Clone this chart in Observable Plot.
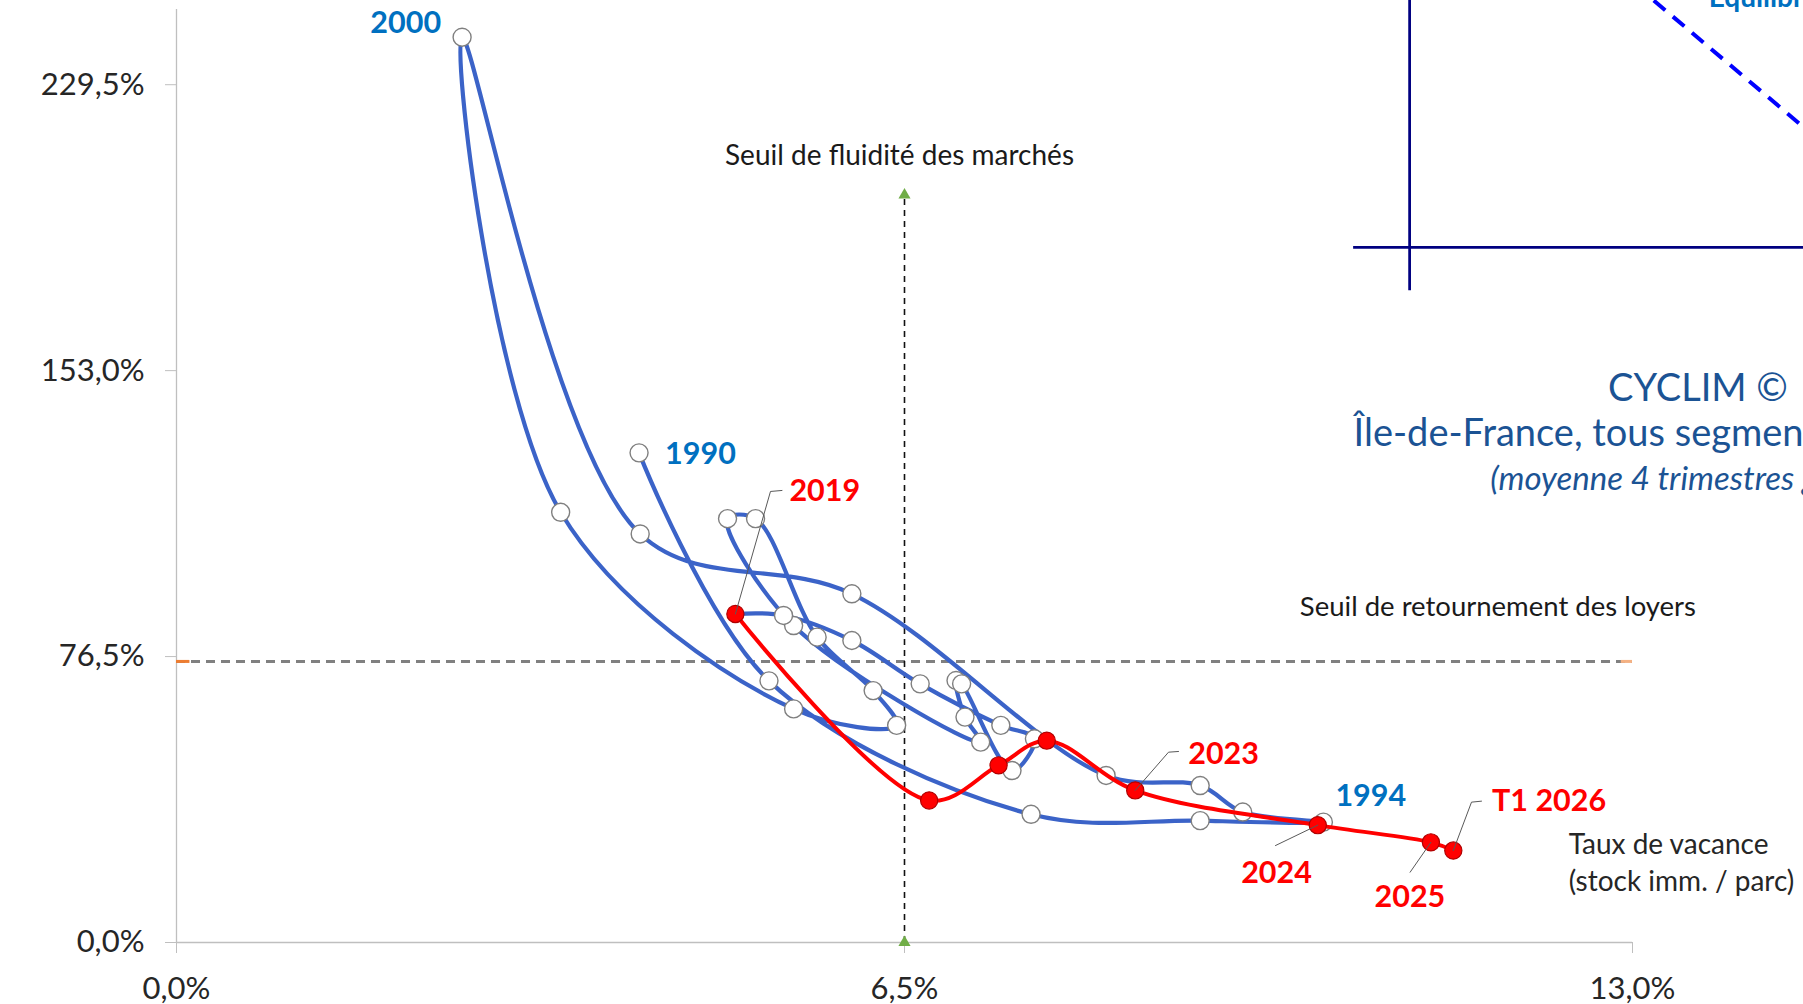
<!DOCTYPE html>
<html>
<head>
<meta charset="utf-8">
<script src="https://cdn.jsdelivr.net/npm/d3@7"></script>
<script src="https://cdn.jsdelivr.net/npm/@observablehq/plot@0.6"></script>
<style>
  html, body { margin: 0; padding: 0; background: #fff; overflow: hidden; }
  #chart svg { display: block; }
</style>
</head>
<body>
<div id="chart"></div>
<script>
// ---------- data ----------
const blueYears   = [1990,1991,1992,1993,1994,1995,1996,1997,1998,1999,2000,2001,2002,2003,2004,2005,2006,2007,2008,2009,2010,2011,2012,2013,2014,2015,2016,2017,2018];
const blueVacancy = [4.13,5.29,7.63,9.14,10.24,9.52,9.14,8.30,6.03,4.14,2.55,3.43,5.51,6.43,6.22,5.72,5.17,4.92,5.51,7.18,7.04,6.96,7.01,7.46,7.66,7.36,6.64,6.03,5.42];
const blueRatio   = [131.0,70.0,34.3,32.6,32.2,34.9,42.0,44.7,93.3,109.3,242.2,115.1,62.5,58.1,67.4,81.7,113.4,113.4,84.8,53.6,60.3,70.1,69.2,46.0,54.5,58.1,69.2,80.8,87.5];

const redLabels   = ["2019","2020","2021","2022","2023","2024","2025","T1 2026"];
const redVacancy  = [4.99,6.72,7.34,7.77,8.56,10.19,11.20,11.40];
const redRatio    = [87.9,38.0,47.4,54.0,40.7,31.4,26.8,24.6];

const xTicks = [0, 6.5, 13];
const yTicks = [0, 76.5, 153, 229.5];
const fluidityThreshold = 6.5;   // vertical dashed line (x)
const fluidityTop = 200;         // its upper end (y)
const rentThreshold = 75.2;      // horizontal dashed line (y)

// ---------- layout ----------
const W = 1803, H = 1004, ML = 176, MR = 171, MT = 0, MB = 62;
const xDomain = [0, 13], yDomain = [0, 252.03];
const PX_X = (W - ML - MR) / (xDomain[1] - xDomain[0]);
const PX_Y = (H - MT - MB) / (yDomain[1] - yDomain[0]);

const blue = blueYears.map((yr, i) => ({key: String(yr), vac: blueVacancy[i], ratio: blueRatio[i]}));
const red  = redLabels.map((lab, i) => ({key: lab, vac: redVacancy[i], ratio: redRatio[i]}));
const blueLine = [...blue, red[0]];

const fmt = d => d.toFixed(1).replace(".", ",") + "%";
const BLUE_TXT = "#0070C0", RED_TXT = "#FF0000", NAVY_TXT = "#1b5394";

// labels attached to points: pixel offsets + leader elbows (pixel offsets from the point)
const labelSpecs = [
  {key: "2000", set: blue, dx: -21, dy: -14, anchor: "end",   color: BLUE_TXT},
  {key: "1990", set: blue, dx: 26,  dy: 1.5, anchor: "start", color: BLUE_TXT},
  {key: "1994", set: blue, dx: 12,  dy: -25.5, anchor: "start", color: BLUE_TXT},
  {key: "2019", set: red, dx: 54, dy: -122.5, anchor: "start", color: RED_TXT, leader: [[46.6,-123.5],[35.1,-122.5]]},
  {key: "2023", set: red, dx: 53, dy: -36,   anchor: "start", color: RED_TXT, leader: [[43.3,-38.9],[33.3,-38.2]]},
  {key: "2024", set: red, dx: -76.6, dy: 48.4, anchor: "start", color: RED_TXT, leader: [[-42.3,20.4]]},
  {key: "2025", set: red, dx: -56.4, dy: 55.2, anchor: "start", color: RED_TXT, leader: [[-20.8,29.9]]},
  {key: "T1 2026", set: red, dx: 38.7, dy: -49.1, anchor: "start", color: RED_TXT, leader: [[28.2,-49.4],[18.2,-48.4]]}
];

const labelMarks = [];
for (const s of labelSpecs) {
  const pt = s.set.find(d => d.key === s.key);
  if (s.leader) {
    const pts = s.leader.map(([ox, oy]) => ({x: pt.vac + ox / PX_X, y: pt.ratio - oy / PX_Y}));
    pts.push({x: pt.vac, y: pt.ratio});
    labelMarks.push(Plot.line(pts, {x: "x", y: "y", stroke: "#595959", strokeWidth: 1}));
  }
  labelMarks.push(Plot.text([pt], {
    x: "vac", y: "ratio", text: "key", dx: s.dx, dy: s.dy,
    textAnchor: s.anchor, fill: s.color, fontWeight: "bold", fontSize: 30.5
  }));
}

const chart = Plot.plot({
  width: W, height: H,
  marginLeft: ML, marginRight: MR, marginTop: MT, marginBottom: MB,
  x: {domain: xDomain},
  y: {domain: yDomain},
  style: {fontFamily: "Lato, 'Open Sans', sans-serif", background: "#fff"},
  marks: [
    // slide decorations (top right)
    Plot.ruleX([11.01], {y1: 174.4, y2: 262, stroke: "#000080", strokeWidth: 2.75}),
    Plot.ruleY([186.0], {x1: 10.51, x2: 15, stroke: "#000080", strokeWidth: 2.75}),
    Plot.link([0], {x1: 13.19, y1: 252.03, x2: 14.77, y2: 212.0, stroke: "#0000FF", strokeWidth: 4, strokeDasharray: "15,10"}),
    Plot.text(["Equilibre"], {x: 13.68, y: 250.3, lineAnchor: "bottom", textAnchor: "start", fontWeight: "bold", fontSize: 28, fill: BLUE_TXT}),
    Plot.text(["CYCLIM ©"], {x: 13.585, y: 148.0, textAnchor: "middle", fontSize: 38, fill: NAVY_TXT}),
    Plot.text(["Île-de-France, tous segments"], {x: 10.51, y: 136.0, textAnchor: "start", fontSize: 38, fill: NAVY_TXT}),
    Plot.text(["(moyenne 4 trimestres glissants)"], {x: 11.73, y: 124.0, textAnchor: "start", fontSize: 33, fontStyle: "italic", fill: NAVY_TXT}),

    // axes
    Plot.ruleY([0], {x1: 0, x2: 13, stroke: "#bfbfbf", strokeWidth: 1.3}),
    Plot.ruleX([0], {y1: 0, y2: 249.6, stroke: "#bfbfbf", strokeWidth: 1.3}),
    Plot.axisX({ticks: xTicks, tickFormat: fmt, tickSize: 11, tickPadding: 23, fontSize: 31, stroke: "#bfbfbf", fill: "#262626", label: null}),
    Plot.axisY({ticks: yTicks, tickFormat: fmt, tickSize: 11, tickPadding: 21, fontSize: 31, stroke: "#bfbfbf", fill: "#262626", label: null}),

    // thresholds
    Plot.ruleY([rentThreshold], {x1: 0, x2: 13, stroke: "#808080", strokeWidth: 3, strokeDasharray: "9,6"}),
    Plot.ruleY([rentThreshold], {x1: 0, x2: 0.12, stroke: "#ED7D31", strokeWidth: 3}),
    Plot.ruleY([rentThreshold], {x1: 12.9, x2: 13, stroke: "#F4B183", strokeWidth: 3}),
    Plot.ruleX([fluidityThreshold], {y1: 0, y2: fluidityTop, stroke: "#111", strokeWidth: 1.6, strokeDasharray: "6,5"}),
    Plot.dot([fluidityTop, 0], {x: fluidityThreshold, y: d => d, symbol: "triangle", r: 4.5, fill: "#70AD47"}),
    Plot.text(["Seuil de fluidité des marchés"], {x: fluidityThreshold, y: fluidityTop, dx: -5, dy: -39, textAnchor: "middle", fontSize: 28, fill: "#1a1a1a"}),
    Plot.text(["Seuil de retournement des loyers"], {x: 10.03, y: rentThreshold, dy: -54, textAnchor: "start", fontSize: 27.5, fill: "#1a1a1a"}),
    Plot.text(["Taux de vacance\n(stock imm. / parc)"], {x: 12.43, y: 21.8, textAnchor: "start", fontSize: 28, lineHeight: 1.3, fill: "#262626"}),

    // historical series
    Plot.line(blueLine, {x: "vac", y: "ratio", curve: "catmull-rom", stroke: "#3b63c8", strokeWidth: 4.2}),
    Plot.dot(blue, {x: "vac", y: "ratio", r: 9, fill: "#fff", stroke: "#7f7f7f", strokeWidth: 1.4}),
    // recent series
    Plot.line(red, {x: "vac", y: "ratio", curve: "catmull-rom", stroke: "#ff0000", strokeWidth: 4}),
    Plot.dot(red, {x: "vac", y: "ratio", r: 8.6, fill: "#ff0000", stroke: "#b00000", strokeWidth: 1.2}),

    ...labelMarks
  ]
});
document.getElementById("chart").appendChild(chart);
</script>
</body>
</html>
